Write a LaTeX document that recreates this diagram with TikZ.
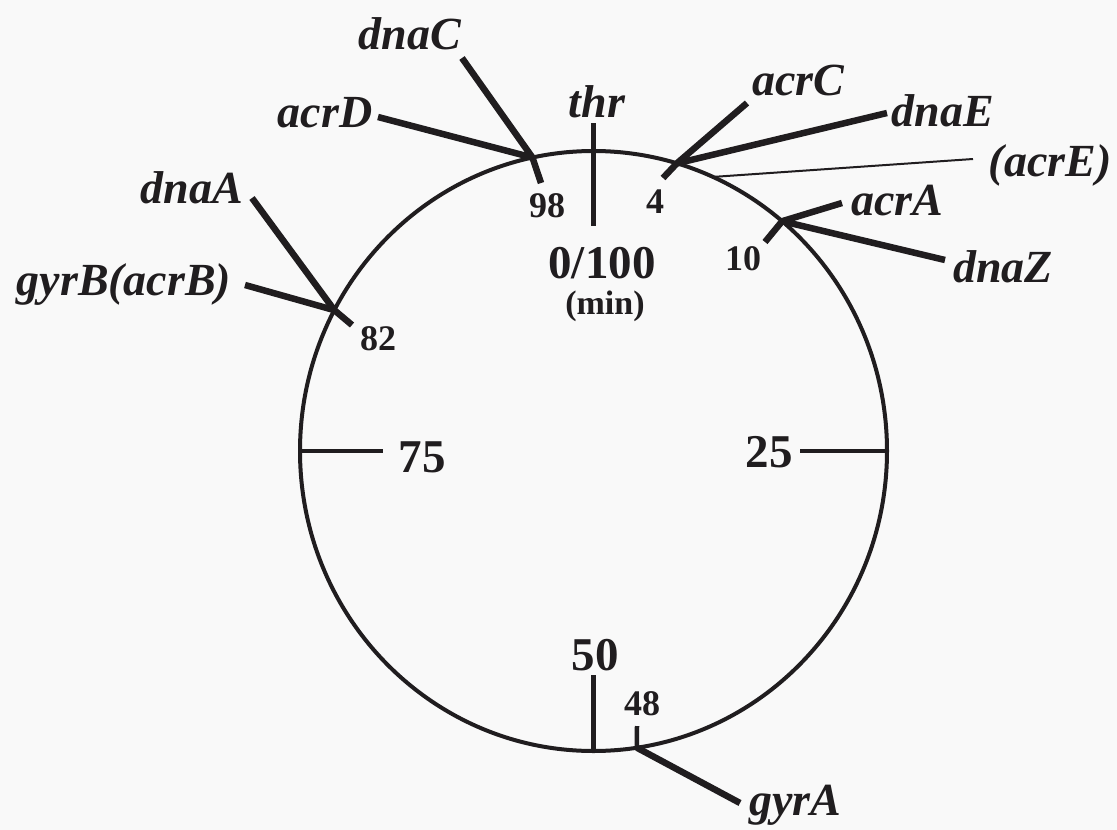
\documentclass[tikz,border=0pt]{standalone}
\usepackage{fontspec}
\setmainfont{Liberation Serif}
\usetikzlibrary{calc}
\definecolor{ink}{RGB}{32,29,31}
\definecolor{paper}{RGB}{249,249,249}
\begin{document}
\begin{tikzpicture}[x=1pt,y=-1pt,
  gene/.style={font=\fontsize{46}{46}\selectfont\bfseries\itshape, text=ink, inner sep=0pt, anchor=base},
  smallnum/.style={font=\fontsize{36}{36}\selectfont\bfseries, text=ink, inner sep=0pt, anchor=base},
  bignum/.style={font=\fontsize{47}{47}\selectfont\bfseries, text=ink, inner sep=0pt, anchor=base},
  unitlabel/.style={font=\fontsize{34}{34}\selectfont\bfseries, text=ink, inner sep=0pt, anchor=base},
  chrom/.style={draw=ink, line width=4pt},
  tickline/.style={draw=ink, line width=4.5pt},
  genline/.style={draw=ink, line width=6.5pt, line join=round},
  thinline/.style={draw=ink, line width=2pt}]
\fill[paper] (0,0) rectangle (1117,830);
\useasboundingbox (0,0) rectangle (1117,830);

% chromosome
\coordinate (C) at (593.5,451);
\draw[chrom] (C) ellipse [x radius=293.5, y radius=300];

% points on the circle
\coordinate (j0)  at ($(C)+(-90:293.5 and 300)$);
\coordinate (j98) at ($(C)+(-102:293.5 and 300)$);
\coordinate (j4)  at ($(C)+(-73.5:293.5 and 300)$);
\coordinate (jE)  at ($(C)+(-66:293.5 and 300)$);
\coordinate (j10) at ($(C)+(-50:293.5 and 300)$);
\coordinate (j25) at ($(C)+(0:293.5 and 300)$);
\coordinate (j48) at ($(C)+(81.5:293.5 and 300)$);
\coordinate (j50) at ($(C)+(90:293.5 and 300)$);
\coordinate (j75) at ($(C)+(180:293.5 and 300)$);
\coordinate (j82) at ($(C)+(208:293.5 and 300)$);

% free ends
\coordinate (thrA) at (593.5,123);
\coordinate (thrB) at (593.5,226);
\coordinate (t25) at (800,451);
\coordinate (t75) at (383,451);
\coordinate (t50) at (593.5,675);
\coordinate (t48) at (637,726);
\coordinate (e98) at (541,183);
\coordinate (e4) at (663,178);
\coordinate (e10) at (765,242);
\coordinate (e82) at (352,325);
\coordinate (ednaC) at (462,58);
\coordinate (eacrD) at (378,117);
\coordinate (eacrC) at (747,103);
\coordinate (ednaE) at (887,113);
\coordinate (eacrE) at (973,159);
\coordinate (eacrA) at (842,203);
\coordinate (ednaZ) at (945,260);
\coordinate (ednaA) at (252,198);
\coordinate (egyrB) at (245,285);
\coordinate (egyrA) at (740,803);

% ticks
\draw[tickline] (thrA) -- (thrB);
\draw[tickline] (j25) -- (t25);
\draw[tickline] (j75) -- (t75);
\draw[tickline] (j50) -- (t50);
\draw[tickline] (j48) -- (t48);

% gene connectors
\draw[genline] (ednaC) -- (j98) -- (e98);
\draw[genline] (eacrD) -- (j98);
\draw[genline] (eacrC) -- (j4) -- (e4);
\draw[genline] (ednaE) -- (j4);
\draw[thinline] (eacrE) -- (jE);
\draw[genline] (eacrA) -- (j10) -- (e10);
\draw[genline] (ednaZ) -- (j10);
\draw[genline] (ednaA) -- (j82) -- (e82);
\draw[genline] (egyrB) -- (j82);
\draw[genline] (j48) -- (egyrA);

% gene labels
\node[gene] (dnaC) at (410,49) {dnaC};
\node[gene] (acrD) at (325,127) {acrD};
\node[gene] (thr) at (597,117) {thr};
\node[gene] (acrC) at (798,95) {acrC};
\node[gene] (dnaE) at (943,126) {dnaE};
\node[gene] (acrE) at (1050,176) {(acrE)};
\node[gene] (acrA) at (897,215) {acrA};
\node[gene] (dnaZ) at (1003,282) {dnaZ};
\node[gene] (dnaA) at (192,203) {dnaA};
\node[gene] (gyrB) at (124,295) {gyrB(acrB)};
\node[gene] (gyrA) at (795,815) {gyrA};

% numbers
\node[smallnum] (n98) at (547,217) {98};
\node[smallnum] (n4) at (655,213) {4};
\node[smallnum] (n10) at (743,270) {10};
\node[smallnum] (n82) at (378,350) {82};
\node[smallnum] (n48) at (642,715) {48};
\node[bignum] (n0) at (602,278) {0/100};
\node[unitlabel] (nmin) at (605,314) {(min)};
\node[bignum] (n75) at (422,472) {75};
\node[bignum] (n25) at (769,467) {25};
\node[bignum] (n50) at (595,670) {50};
\end{tikzpicture}
\end{document}
